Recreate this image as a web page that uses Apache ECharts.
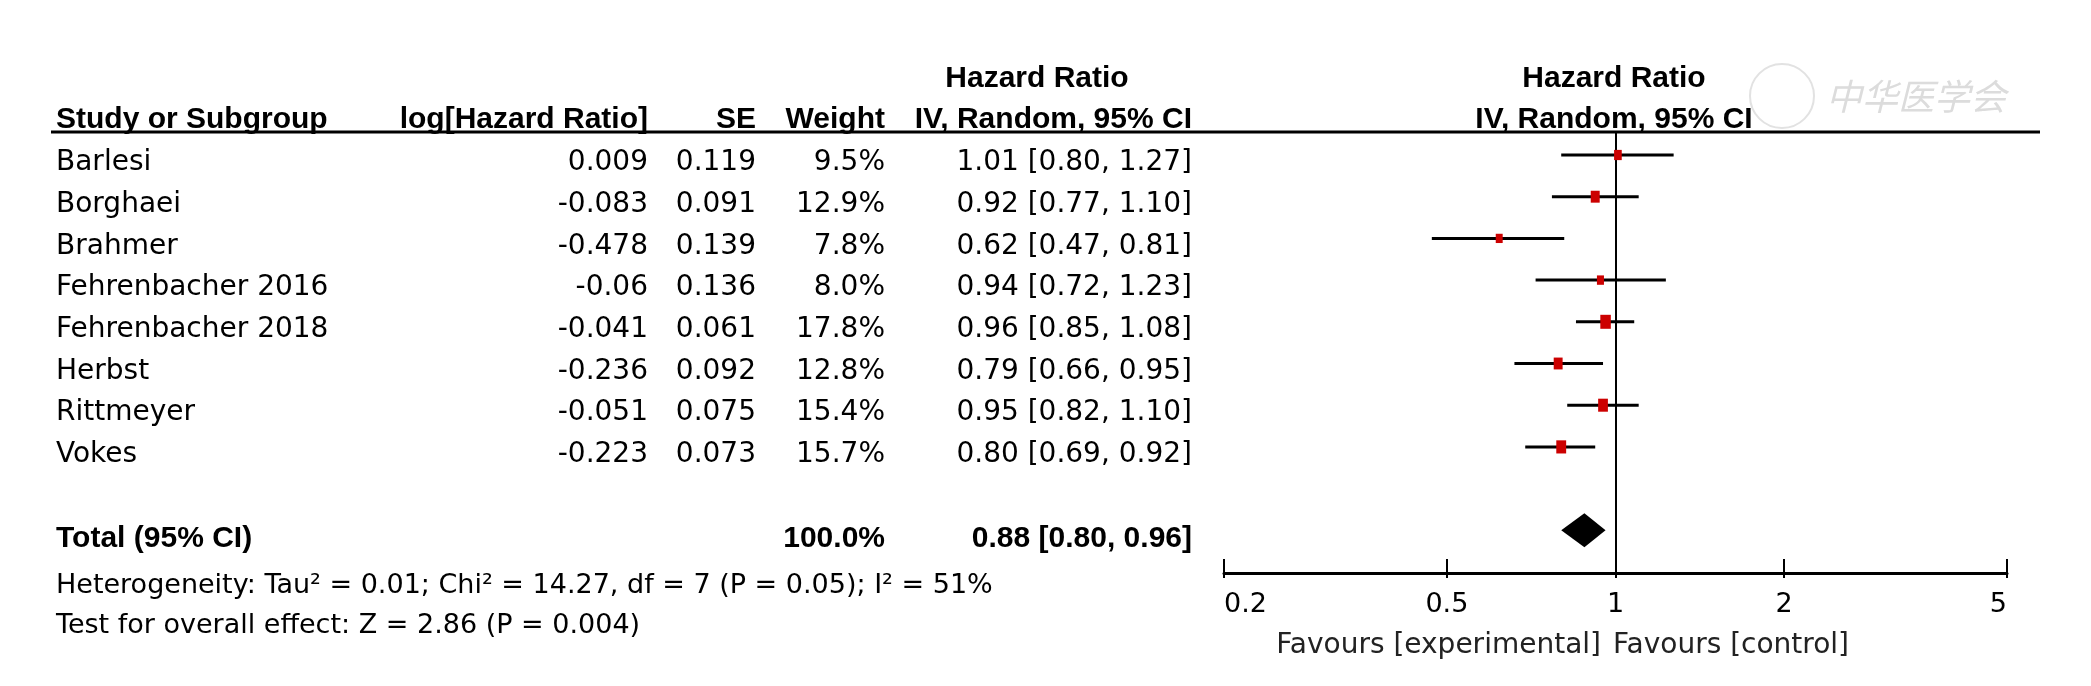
<!DOCTYPE html>
<html><head><meta charset="utf-8">
<script src="https://cdn.jsdelivr.net/npm/echarts@6/dist/echarts.min.js"></script>
<style>html,body{margin:0;padding:0;background:#fff}#c{width:2091px;height:686px}</style>
</head><body><div id="c"></div>
<script>
// ---------------- DATA ----------------
const studies = ['Barlesi','Borghaei','Brahmer','Fehrenbacher 2016','Fehrenbacher 2018','Herbst','Rittmeyer','Vokes'];
const logHR   = [0.009, -0.083, -0.478, -0.06, -0.041, -0.236, -0.051, -0.223];
const seVals  = [0.119, 0.091, 0.139, 0.136, 0.061, 0.092, 0.075, 0.073];
const weights = [9.5, 12.9, 7.8, 8.0, 17.8, 12.8, 15.4, 15.7];
const hr      = [1.01, 0.92, 0.62, 0.94, 0.96, 0.79, 0.95, 0.80];
const ciLow   = [0.80, 0.77, 0.47, 0.72, 0.85, 0.66, 0.82, 0.69];
const ciHigh  = [1.27, 1.10, 0.81, 1.23, 1.08, 0.95, 1.10, 0.92];
const totalLabel = 'Total (95% CI)';
const totalWeight = 100.0;
const totalHR = 0.88, totalLow = 0.80, totalHigh = 0.96;
const colHeaders = ['Study or Subgroup', 'log[Hazard Ratio]', 'SE', 'Weight', 'IV, Random, 95% CI'];
const groupHeader = 'Hazard Ratio';
const plotHeader = ['Hazard Ratio', 'IV, Random, 95% CI'];
const heterogeneityText = 'Heterogeneity: Tau\u00b2 = 0.01; Chi\u00b2 = 14.27, df = 7 (P = 0.05); I\u00b2 = 51%';
const overallText = 'Test for overall effect: Z = 2.86 (P = 0.004)';
const xTicks = [0.2, 0.5, 1, 2, 5];
const favoursLeft = 'Favours [experimental]';
const favoursRight = 'Favours [control]';
const watermark = '\u4e2d\u534e\u533b\u5b66\u4f1a';

// ---------------- LAYOUT ----------------
const W = 2091, H = 686;
const ROW0 = 155, ROWH = 41.7;           // pixel y of first study row (mark centre), row pitch
const rowOf = y => (y - ROW0) / ROWH;
const PLOT = {left: 1224, right: 84, top: 132, bottom: 113};
const COL = {name: 56, logHR: 648, se: 756, weight: 885, ci: 1192, groupC: 1037, plotC: 1614};
const TOTAL_ROW = studies.length + 1;
const ROW_TEXT_DY = 8;                    // table text sits slightly below the mark centre line
const BODY = '28px "DejaVu Sans"';
const FOOT = '27px "DejaVu Sans"';
const BOLD = 'bold 30px "Liberation Sans"';
const fmt2 = v => v.toFixed(2);
const ciText = (h, l, u) => fmt2(h) + ' [' + fmt2(l) + ', ' + fmt2(u) + ']';

// table text items (positions are layout, text from data arrays)
const items = [];
const hRow1 = rowOf(79), hRow2 = rowOf(120);
items.push({x: COL.groupC, row: hRow1, text: groupHeader, align: 'center', font: BOLD});
items.push({x: COL.plotC, row: hRow1, text: plotHeader[0], align: 'center', font: BOLD});
items.push({x: COL.name, row: hRow2, text: colHeaders[0], align: 'left', font: BOLD});
items.push({x: COL.logHR, row: hRow2, text: colHeaders[1], align: 'right', font: BOLD});
items.push({x: COL.se, row: hRow2, text: colHeaders[2], align: 'right', font: BOLD});
items.push({x: COL.weight, row: hRow2, text: colHeaders[3], align: 'right', font: BOLD});
items.push({x: COL.ci, row: hRow2, text: colHeaders[4], align: 'right', font: BOLD});
items.push({x: COL.plotC, row: hRow2, text: plotHeader[1], align: 'center', font: BOLD});
studies.forEach((s, i) => {
  items.push({x: COL.name, row: i, dy: ROW_TEXT_DY, text: s, align: 'left', font: BODY});
  items.push({x: COL.logHR, row: i, dy: ROW_TEXT_DY, text: String(logHR[i]), align: 'right', font: BODY});
  items.push({x: COL.se, row: i, dy: ROW_TEXT_DY, text: seVals[i].toFixed(3), align: 'right', font: BODY});
  items.push({x: COL.weight, row: i, dy: ROW_TEXT_DY, text: weights[i].toFixed(1) + '%', align: 'right', font: BODY});
  items.push({x: COL.ci, row: i, dy: ROW_TEXT_DY, text: ciText(hr[i], ciLow[i], ciHigh[i]), align: 'right', font: BODY});
});
items.push({x: COL.name, row: TOTAL_ROW, dy: ROW_TEXT_DY, text: totalLabel, align: 'left', font: BOLD});
items.push({x: COL.weight, row: TOTAL_ROW, dy: ROW_TEXT_DY, text: totalWeight.toFixed(1) + '%', align: 'right', font: BOLD});
items.push({x: COL.ci, row: TOTAL_ROW, dy: ROW_TEXT_DY, text: ciText(totalHR, totalLow, totalHigh), align: 'right', font: BOLD});
items.push({x: COL.name, row: rowOf(586), text: heterogeneityText, align: 'left', font: FOOT});
items.push({x: COL.name, row: rowOf(626), text: overallText, align: 'left', font: FOOT});
items.push({x: 1601, row: rowOf(646), text: favoursLeft, align: 'right', font: '28px "DejaVu Sans"', color: '#222'});
items.push({x: 1613, row: rowOf(646), text: favoursRight, align: 'left', font: '28px "DejaVu Sans"', color: '#222'});

const logAxisBase = {gridIndex: 1, type: 'log', logBase: 10, position: 'bottom',
  min: xTicks[0], max: xTicks[xTicks.length - 1],
  splitLine: {show: false}, minorTick: {show: false}};

const chart = echarts.init(document.getElementById('c'), null, {renderer: 'canvas'});
const option = {
  backgroundColor: '#fff',
  animation: false,
  grid: [
    {left: 0, right: 0, top: 0, bottom: 0},
    {left: PLOT.left, right: PLOT.right, top: PLOT.top, bottom: PLOT.bottom}
  ],
  xAxis: [
    {gridIndex: 0, type: 'value', min: 0, max: W, show: false},
    Object.assign({}, logAxisBase, {
     axisLine: {onZero: false, lineStyle: {color: '#000', width: 3}},
     axisTick: {customValues: xTicks, inside: true, length: 14, lineStyle: {color: '#000', width: 2}},
     axisLabel: {customValues: xTicks, formatter: v => String(v), color: '#000', fontSize: 27,
                 fontFamily: 'DejaVu Sans', margin: 18, alignMinLabel: 'left', alignMaxLabel: 'right'}}),
    Object.assign({}, logAxisBase, { // short outward tick stubs so ticks cross the axis line
     axisLine: {show: false, onZero: false},
     axisTick: {customValues: xTicks, inside: false, length: 5, lineStyle: {color: '#000', width: 2}},
     axisLabel: {show: false}})
  ],
  yAxis: [
    {gridIndex: 0, type: 'value', inverse: true, min: rowOf(0), max: rowOf(H), show: false},
    {gridIndex: 1, type: 'value', inverse: true, min: rowOf(PLOT.top), max: rowOf(H - PLOT.bottom), show: false}
  ],
  graphic: [
    {type: 'line', shape: {x1: 51, y1: 132, x2: 2040, y2: 132}, style: {stroke: '#000', lineWidth: 3}, z: 100},
    {type: 'circle', shape: {cx: 1782, cy: 96, r: 32}, style: {fill: 'none', stroke: '#e2e2e2', lineWidth: 2}, z: 1},
    {type: 'text', x: 1826, y: 96, style: {text: watermark, font: 'italic 36px "Noto Sans CJK SC"', fill: '#dcdcdc', verticalAlign: 'middle', align: 'left'}, z: 1}
  ],
  series: [
    {
      type: 'custom', xAxisIndex: 0, yAxisIndex: 0, silent: true, clip: false, z: 5,
      data: items.map(it => [it.x, it.row]),
      renderItem: (params, api) => {
        const it = items[params.dataIndex];
        const p = api.coord([api.value(0), api.value(1)]);
        return {type: 'text', x: p[0], y: p[1] + (it.dy || 0),
          style: {text: it.text, align: it.align, verticalAlign: 'middle', font: it.font, fill: it.color || '#000'}};
      }
    },
    { // confidence intervals
      type: 'custom', xAxisIndex: 1, yAxisIndex: 1, silent: true, z: 3,
      data: studies.map((s, i) => [ciLow[i], ciHigh[i], i]),
      encode: {x: [0, 1], y: 2},
      renderItem: (params, api) => {
        const a = api.coord([api.value(0), api.value(2)]);
        const b = api.coord([api.value(1), api.value(2)]);
        return {type: 'line', shape: {x1: a[0], y1: a[1], x2: b[0], y2: b[1]}, style: {stroke: '#000', lineWidth: 3}};
      },
      markLine: {silent: true, symbol: 'none', label: {show: false},
        lineStyle: {color: '#000', width: 2, type: 'solid'}, data: [{xAxis: 1}]}
    },
    { // point estimates (square size from weight)
      type: 'custom', xAxisIndex: 1, yAxisIndex: 1, silent: true, z: 6,
      data: studies.map((s, i) => [hr[i], i, weights[i]]),
      encode: {x: 0, y: 1},
      renderItem: (params, api) => {
        const p = api.coord([api.value(0), api.value(1)]);
        const k = Math.sqrt(api.value(2) / 17.8);
        const w = 10.5 * k, h = 14 * k;
        return {type: 'rect', shape: {x: p[0] - w / 2, y: p[1] - h / 2, width: w, height: h},
          style: {fill: '#cc0000'}};
      }
    },
    { // pooled diamond
      type: 'custom', xAxisIndex: 1, yAxisIndex: 1, silent: true, z: 6,
      data: [[totalLow, totalHR, totalHigh, TOTAL_ROW]],
      encode: {x: [0, 1, 2], y: 3},
      renderItem: (params, api) => {
        const r = api.value(3);
        const l = api.coord([api.value(0), r]);
        const c = api.coord([api.value(1), r]);
        const u = api.coord([api.value(2), r]);
        const hh = 17;
        return {type: 'polygon', shape: {points: [[l[0], l[1]], [c[0], c[1] - hh], [u[0], u[1]], [c[0], c[1] + hh]]},
          style: {fill: '#000'}};
      }
    }
  ]
};
chart.setOption(option);
</script>
</body></html>
